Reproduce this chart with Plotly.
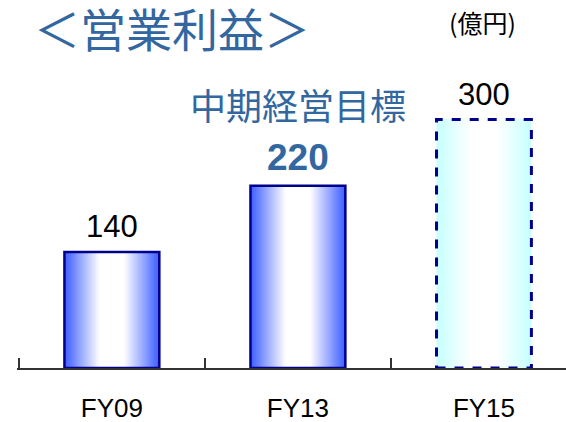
import plotly.graph_objects as go

# ---- data ----
categories = ["FY09", "FY13", "FY15"]
values = [140, 220, 300]
value_labels = ["140", "220", "300"]
target_caption = "中期経営目標"
title_text = "＜営業利益＞"
unit_text = "(億円)"

# ---- style ----
BLUE_TXT = "#32679F"
NAVY = "#00008C"
edge_colors = [(64, 96, 255), (64, 96, 255), (200, 255, 255)]
bar_w = 0.51
N = 36

fig = go.Figure()

def mix(c, s):
    return "rgb(%d,%d,%d)" % tuple(round(a + (255 - a) * s) for a in c)

for k in range(N):
    t = k / (N - 1)          # 0 at edge, 1 at centre
    s = min(1.0, t / 0.75) ** 1.0
    w = bar_w * (1 - t * 0.97)
    fig.add_trace(go.Bar(
        x=categories, y=values, width=w,
        marker=dict(color=[mix(c, s) for c in edge_colors], line=dict(width=0)),
        hoverinfo="skip", showlegend=False,
    ))

# outline for solid bars
fig.add_trace(go.Bar(
    x=categories, y=values, width=bar_w,
    marker=dict(color="rgba(0,0,0,0)", line=dict(color=NAVY, width=[2.5, 2.5, 0])),
    hoverinfo="skip", showlegend=False,
))

# dashed outline for the target bar (FY15)
i15 = 2
fig.add_shape(type="rect", xref="x", yref="y",
              x0=i15 - bar_w / 2, x1=i15 + bar_w / 2, y0=0, y1=values[i15],
              line=dict(color=NAVY, width=3, dash="dash"), layer="above")

# value labels
for i, (c, v, lab) in enumerate(zip(categories, values, value_labels)):
    if i == 1:
        fig.add_annotation(x=c, y=v, text="<b>" + lab + "</b>", showarrow=False,
                           yanchor="bottom", yshift=6,
                           font=dict(family="Liberation Sans", size=37, color=BLUE_TXT))
        fig.add_annotation(x=c, y=v, text=target_caption, showarrow=False,
                           yanchor="bottom", yshift=54,
                           font=dict(family="Noto Sans CJK JP", size=36, color=BLUE_TXT))
    else:
        fig.add_annotation(x=c, y=v, text=lab, showarrow=False,
                           yanchor="bottom", yshift=6,
                           font=dict(family="Liberation Sans", size=31, color="black"))

fig.add_annotation(xref="paper", yref="paper", x=0.03, y=0.927, xanchor="left", yanchor="middle",
                   text=title_text, showarrow=False, borderpad=0,
                   font=dict(family="Noto Sans CJK JP", size=46, color=BLUE_TXT))
fig.add_annotation(xref="paper", yref="paper", x=0.848, y=0.94, xanchor="center", yanchor="middle",
                   text=unit_text, showarrow=False,
                   font=dict(family="Noto Sans CJK JP", size=25, color="black"))

fig.update_layout(
    width=566, height=422,
    margin=dict(l=17, r=0, t=0, b=54),
    barmode="overlay",
    plot_bgcolor="white", paper_bgcolor="white",
    xaxis=dict(type="category", range=[-0.51, 2.441], tickson="boundaries",
               ticks="inside", ticklen=10, tickcolor="#333", tickwidth=1.5,
               showline=True, linecolor="#333", linewidth=1.5,
               showgrid=False, ticklabelstandoff=16, automargin=False,
               tickfont=dict(family="Liberation Sans", size=26, color="black")),
    yaxis=dict(range=[0, 444.4], visible=False, showgrid=False, automargin=False),
)

fig.write_html("out.html")
